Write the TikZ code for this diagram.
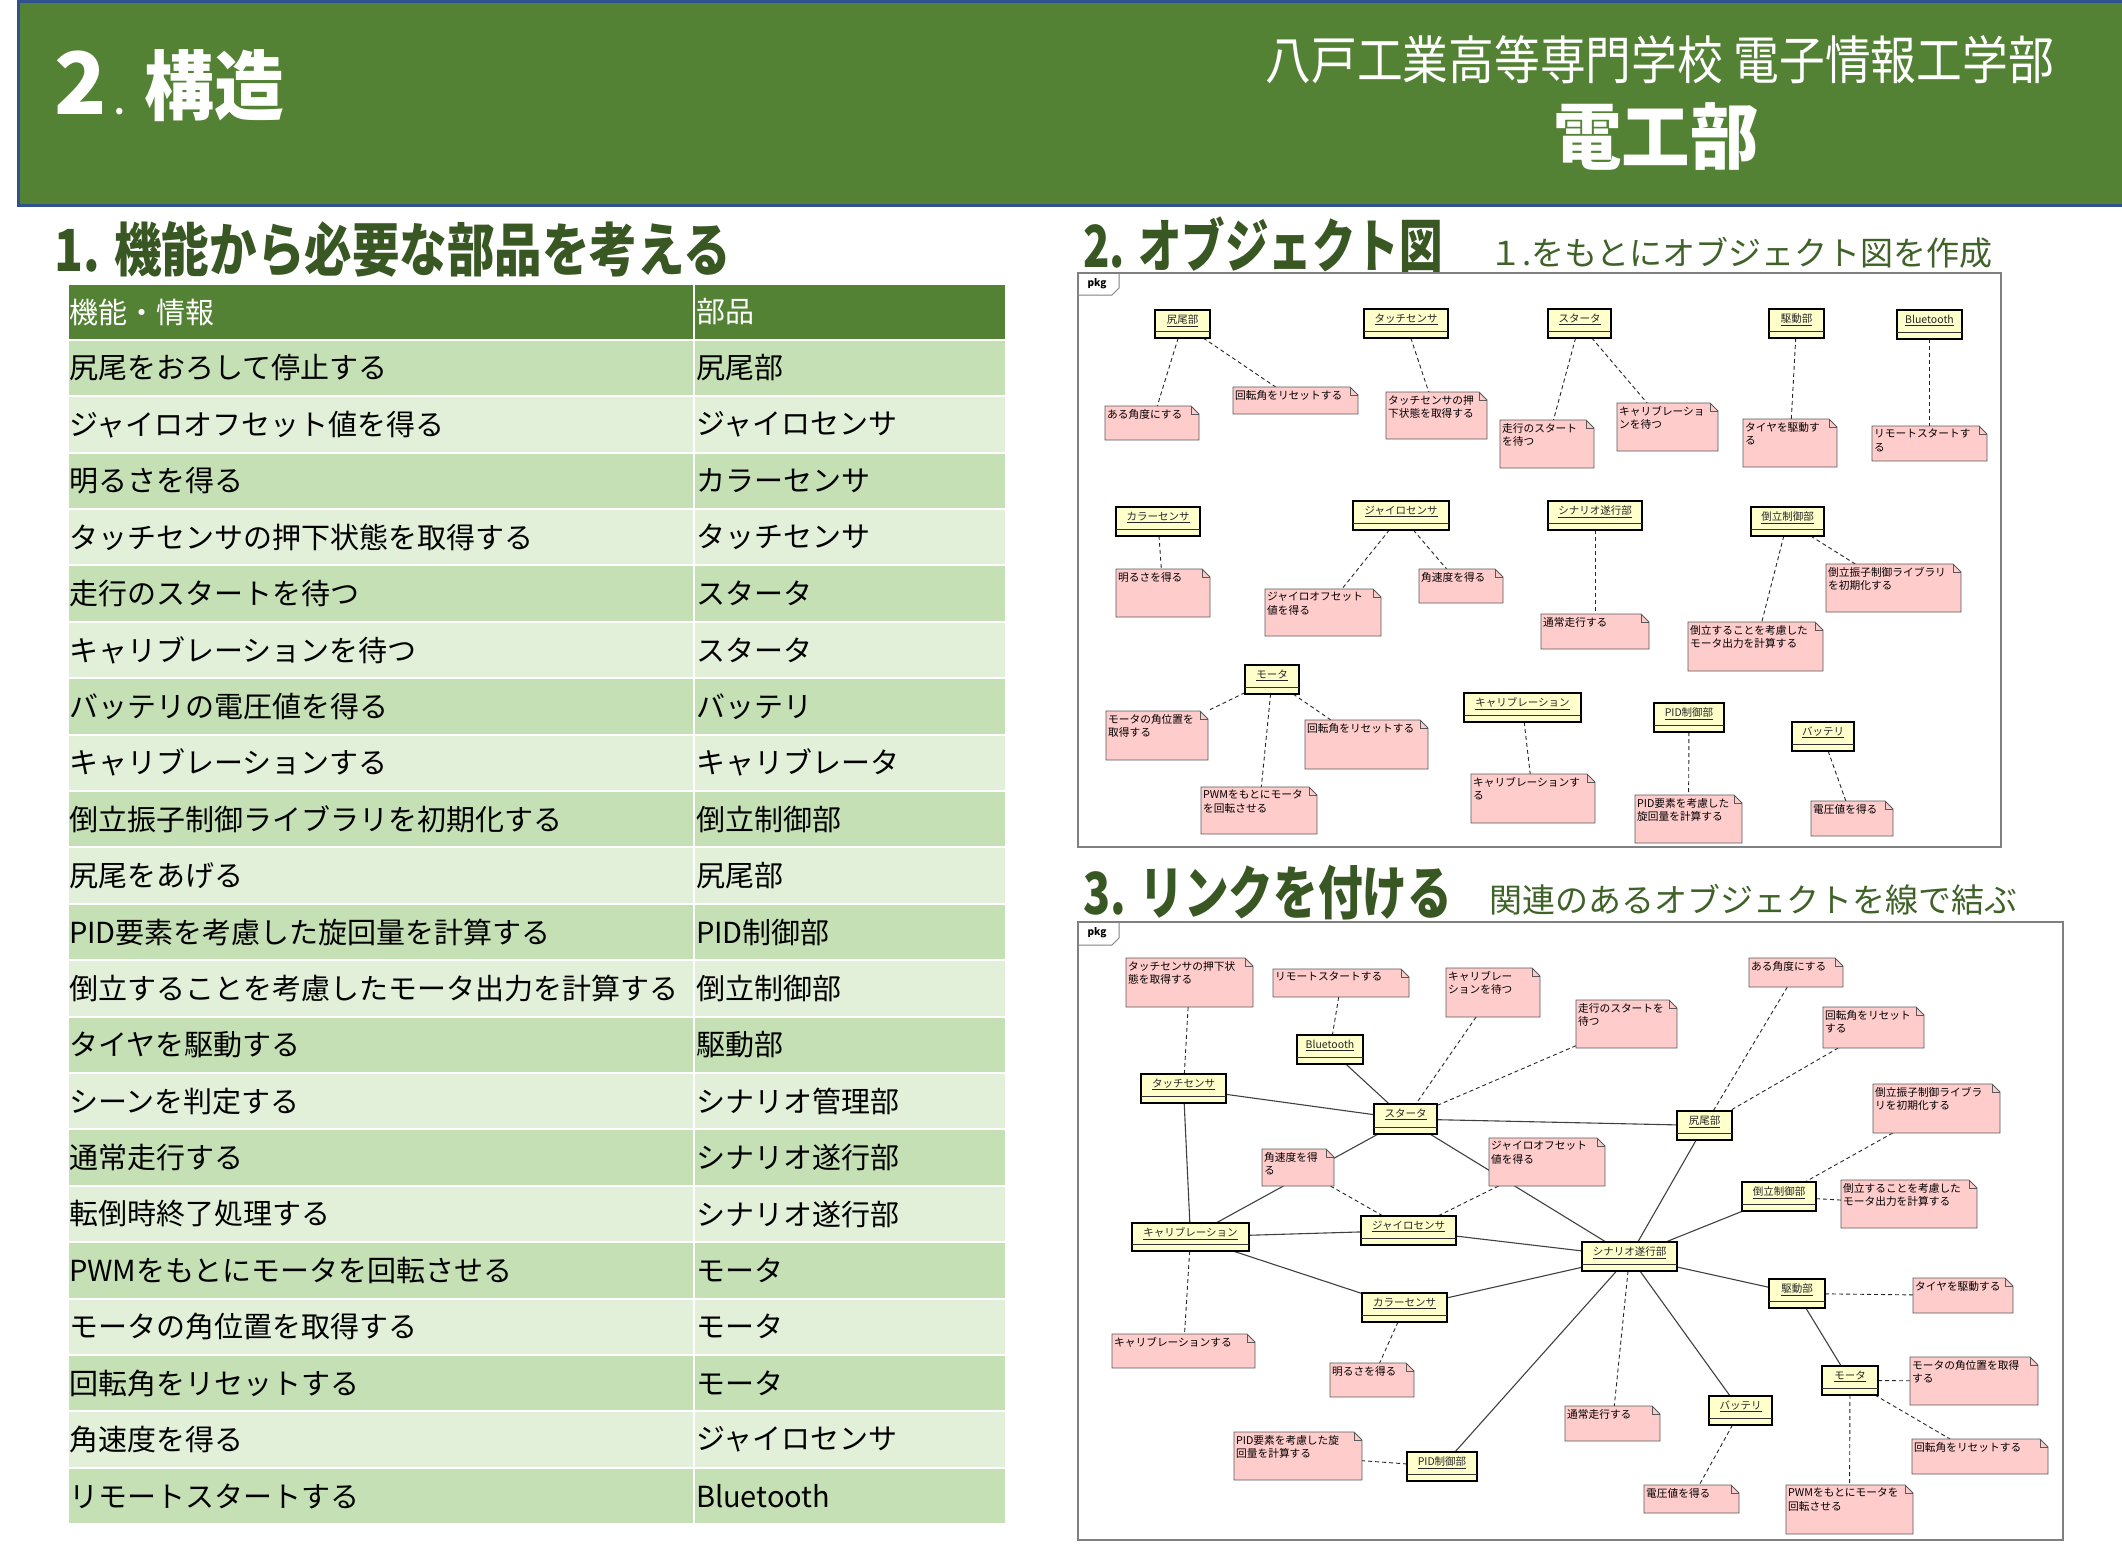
\documentclass[tikz,border=0pt]{standalone}
\usepackage{fontspec}
\setmainfont{Noto Sans CJK JP}
\usetikzlibrary{backgrounds}
\definecolor{headgreen}{HTML}{548235}
\definecolor{headborder}{HTML}{2F528F}
\definecolor{titlegreen}{HTML}{385723}
\definecolor{subgreen}{HTML}{3F6228}
\definecolor{rowdark}{HTML}{C5E0B4}
\definecolor{rowlight}{HTML}{E2F0D9}
\definecolor{objfill}{HTML}{FFFFCC}
\definecolor{notefill}{HTML}{FFCCCC}
\tikzset{
  cellL/.style={draw=white, line width=2, minimum width=626, minimum height=56.4, text width=624, align=left, inner xsep=1, inner ysep=0, font=\fontsize{29}{34}\selectfont},
  cellR/.style={draw=white, line width=2, minimum width=312, minimum height=56.4, text width=308, align=left, inner xsep=2, inner ysep=0, font=\fontsize{29}{34}\selectfont},
  objbox/.style={draw=black, fill=objfill, line width=1.8, inner sep=0, outer sep=0},
  objsep/.style={draw=black!80, line width=0.8},
  objtext/.style={inner sep=0, font=\fontsize{10.5}{12}\selectfont, text=black!85},
  notebox/.style={inner sep=0, outer sep=0},
  notefillst/.style={fill=notefill},
  noteline/.style={draw=black!65, line width=0.8},
  notetext/.style={inner sep=1, align=left, font=\fontsize{10.7}{13.3}\selectfont, text=black},
  dlink/.style={draw=black!85, dash pattern=on 4pt off 3pt, line width=0.9},
  slink/.style={draw=black!75, line width=1.1},
  framest/.style={draw=black!50, line width=1.3},
  heading/.style={anchor=base west, inner sep=0, text=titlegreen},
  subhead/.style={anchor=base west, inner sep=0, text=subgreen, font=\fontsize{33}{37}\selectfont},
}
\newcommand\uobj[6]{%
  \node[objbox, minimum width={#4-#2}, minimum height={#5-#3}] (#1) at ({(#2+#4)/2},{(#3+#5)/2}) {};
  \draw[objsep] ([yshift=6.5pt]#1.south west) -- ([yshift=6.5pt]#1.south east);
  \node[objtext] (#1t) at ([yshift=-10.5pt]#1.north) {\underline{#6}};
}
\newcommand\unote[6]{%
  \node[notebox, minimum width={#4-#2}, minimum height={#5-#3}] (#1) at ({(#2+#4)/2},{(#3+#5)/2}) {};
  \fill[notefillst] (#2,#3) -- ({#4-8},#3) -- (#4,{#3+8}) -- (#4,#5) -- (#2,#5) -- cycle;
  \draw[noteline] (#2,#3) -- ({#4-8},#3) -- (#4,{#3+8}) -- (#4,#5) -- (#2,#5) -- cycle;
  \draw[noteline] ({#4-8},#3) -- ({#4-8},{#3+8}) -- (#4,{#3+8});
  \node[notetext, anchor=north west] (#1t) at ({#2+1},{#3+2}) {#6};
}
\begin{document}
\begin{tikzpicture}[x=1pt,y=-1pt]
\useasboundingbox (0,0) rectangle (2122,1549);
% ---------- header ----------
\fill[headgreen] (18,1) rectangle (2122,206);
\draw[headborder, line width=3] (2122,1.5) -- (18,1.5) -- (18,206) -- (2122,206);
\node[anchor=base west, inner sep=0, text=white, font=\bfseries\fontsize{86}{90}\selectfont] (tnum) at (54,115) {2};
\node[anchor=base west, inner sep=0, text=white, font=\bfseries\fontsize{30}{34}\selectfont] (tdot) at (114,115) {.};
\node[anchor=base west, inner sep=0, text=white, font=\bfseries\fontsize{76}{80}\selectfont, xscale=0.92] (tkozo) at (144,115) {構造};
\node[anchor=base east, inner sep=0, text=white, font=\fontsize{52}{56}\selectfont, xscale=0.88] (school) at (2054,80) {八戸工業高等専門学校 電子情報工学部};
\node[anchor=base, inner sep=0, text=white, font=\bfseries\fontsize{72}{76}\selectfont, xscale=0.95] (denko) at (1656,164) {電工部};
% ---------- headings ----------
\node[heading, font=\bfseries\fontsize{58}{62}\selectfont, xscale=0.82] (h1) at (54,271) {1. 機能から必要な部品を考える};
\node[heading, font=\bfseries\fontsize{58}{62}\selectfont, xscale=0.75] (h2) at (1083,267) {2. オブジェクト図};
\node[subhead] (s2) at (1489,265) {１.をもとにオブジェクト図を作成};
\node[heading, font=\bfseries\fontsize{58}{62}\selectfont, xscale=0.77] (h3) at (1083,914) {3. リンクを付ける};
\node[subhead] (s3) at (1489,912) {関連のあるオブジェクトを線で結ぶ};
% ---------- table ----------
\node[cellL, fill=headgreen, text=white] (th1) at (381,312) {機能・情報};
\node[cellR, fill=headgreen, text=white] (th2) at (850,312) {部品};
\foreach \a/\b [count=\i] in {
  尻尾をおろして停止する/尻尾部,
  ジャイロオフセット値を得る/ジャイロセンサ,
  明るさを得る/カラーセンサ,
  タッチセンサの押下状態を取得する/タッチセンサ,
  走行のスタートを待つ/スタータ,
  キャリブレーションを待つ/スタータ,
  バッテリの電圧値を得る/バッテリ,
  キャリブレーションする/キャリブレータ,
  倒立振子制御ライブラリを初期化する/倒立制御部,
  尻尾をあげる/尻尾部,
  PID要素を考慮した旋回量を計算する/PID制御部,
  倒立することを考慮したモータ出力を計算する/倒立制御部,
  タイヤを駆動する/駆動部,
  シーンを判定する/シナリオ管理部,
  通常走行する/シナリオ遂行部,
  転倒時終了処理する/シナリオ遂行部,
  PWMをもとにモータを回転させる/モータ,
  モータの角位置を取得する/モータ,
  回転角をリセットする/モータ,
  角速度を得る/ジャイロセンサ,
  リモートスタートする/Bluetooth}{
  \pgfmathsetmacro\yc{368+56.4*(\i-1)}
  \pgfmathtruncatemacro\odd{mod(\i,2)}
  \ifnum\odd=1 \def\rc{rowdark}\else\def\rc{rowlight}\fi
  \node[cellL, fill=\rc] (tl\i) at (381,\yc) {\a};
  \node[cellR, fill=\rc] (tr\i) at (850,\yc) {\b};
}
% ---------- panel 2 frame ----------
\draw[framest] (1078,273) rectangle (2001,847);
\draw[framest, line width=1] (1078,295) -- (1112,295) -- (1119,288) -- (1119,273);
\node[inner sep=0, font=\bfseries\fontsize{10}{12}\selectfont] (pkgA) at (1097,284) {pkg};
% objects
\uobj{aShippo}{1155}{310}{1210}{338}{尻尾部}
\uobj{aTouch}{1364}{309}{1448}{338}{タッチセンサ}
\uobj{aStarter}{1548}{309}{1611}{338}{スタータ}
\uobj{aDrive}{1769}{309}{1824}{338}{駆動部}
\uobj{aBT}{1897}{310}{1962}{339}{Bluetooth}
\uobj{aColor}{1116}{507}{1200}{536}{カラーセンサ}
\uobj{aGyro}{1353}{501}{1449}{530}{ジャイロセンサ}
\uobj{aScen}{1548}{501}{1642}{530}{シナリオ遂行部}
\uobj{aInv}{1751}{507}{1824}{536}{倒立制御部}
\uobj{aMotor}{1245}{665}{1299}{694}{モータ}
\uobj{aCalib}{1464}{693}{1581}{722}{キャリブレーション}
\uobj{aPID}{1654}{703}{1724}{732}{PID制御部}
\uobj{aBatt}{1792}{722}{1854}{751}{バッテリ}
% notes
\unote{an1}{1105}{406}{1199}{440}{ある角度にする}
\unote{an2}{1233}{387}{1358}{414}{回転角をリセットする}
\unote{an3}{1386}{392}{1487}{439}{タッチセンサの押\\下状態を取得する}
\unote{an4}{1500}{420}{1594}{468}{走行のスタート\\を待つ}
\unote{an5}{1617}{403}{1718}{451}{キャリブレーショ\\ンを待つ}
\unote{an6}{1743}{419}{1837}{467}{タイヤを駆動す\\る}
\unote{an7}{1872}{426}{1987}{461}{リモートスタートす\\る}
\unote{an8}{1116}{569}{1210}{617}{明るさを得る}
\unote{an9}{1265}{589}{1381}{636}{ジャイロオフセット\\値を得る}
\unote{an10}{1419}{569}{1503}{603}{角速度を得る}
\unote{an11}{1541}{614}{1649}{649}{通常走行する}
\unote{an12}{1688}{622}{1823}{671}{倒立することを考慮した\\モータ出力を計算する}
\unote{an13}{1826}{564}{1961}{612}{倒立振子制御ライブラリ\\を初期化する}
\unote{an14}{1106}{711}{1208}{760}{モータの角位置を\\取得する}
\unote{an15}{1201}{787}{1317}{834}{PWMをもとにモータ\\を回転させる}
\unote{an16}{1305}{720}{1428}{769}{回転角をリセットする}
\unote{an17}{1471}{774}{1595}{823}{キャリブレーションす\\る}
\unote{an18}{1635}{795}{1742}{843}{PID要素を考慮した\\旋回量を計算する}
\unote{an19}{1811}{801}{1893}{836}{電圧値を得る}
% ---------- panel 3 frame ----------
\draw[framest] (1078,922) rectangle (2063,1540);
\draw[framest, line width=1] (1078,945) -- (1112,945) -- (1119,938) -- (1119,922);
\node[inner sep=0, font=\bfseries\fontsize{10}{12}\selectfont] (pkgB) at (1097,933) {pkg};
% objects
\uobj{bBT}{1297}{1035}{1363}{1064}{Bluetooth}
\uobj{bTouch}{1141}{1074}{1226}{1103}{タッチセンサ}
\uobj{bStarter}{1374}{1104}{1437}{1134}{スタータ}
\uobj{bGyro}{1361}{1216}{1456}{1245}{ジャイロセンサ}
\uobj{bCalib}{1132}{1223}{1249}{1251}{キャリブレーション}
\uobj{bShippo}{1677}{1111}{1732}{1140}{尻尾部}
\uobj{bInv}{1742}{1182}{1816}{1211}{倒立制御部}
\uobj{bScen}{1582}{1242}{1677}{1271}{シナリオ遂行部}
\uobj{bDrive}{1769}{1279}{1825}{1308}{駆動部}
\uobj{bMotor}{1822}{1366}{1878}{1395}{モータ}
\uobj{bBatt}{1709}{1396}{1772}{1425}{バッテリ}
\uobj{bColor}{1362}{1293}{1447}{1322}{カラーセンサ}
\uobj{bPID}{1407}{1452}{1477}{1481}{PID制御部}
% notes
\unote{bn1}{1126}{958}{1253}{1007}{タッチセンサの押下状\\態を取得する}
\unote{bn2}{1273}{969}{1409}{997}{リモートスタートする}
\unote{bn3}{1446}{968}{1540}{1017}{キャリブレー\\ションを待つ}
\unote{bn4}{1576}{1000}{1677}{1048}{走行のスタートを\\待つ}
\unote{bn5}{1262}{1149}{1334}{1186}{角速度を得\\る}
\unote{bn6}{1489}{1138}{1605}{1186}{ジャイロオフセット\\値を得る}
\unote{bn7}{1749}{958}{1843}{987}{ある角度にする}
\unote{bn8}{1823}{1007}{1924}{1048}{回転角をリセット\\する}
\unote{bn9}{1873}{1084}{2000}{1133}{倒立振子制御ライブラ\\リを初期化する}
\unote{bn10}{1841}{1180}{1977}{1228}{倒立することを考慮した\\モータ出力を計算する}
\unote{bn11}{1913}{1278}{2013}{1313}{タイヤを駆動する}
\unote{bn12}{1910}{1357}{2038}{1405}{モータの角位置を取得\\する}
\unote{bn13}{1912}{1439}{2048}{1474}{回転角をリセットする}
\unote{bn14}{1786}{1485}{1913}{1534}{PWMをもとにモータを\\回転させる}
\unote{bn15}{1644}{1485}{1739}{1513}{電圧値を得る}
\unote{bn16}{1565}{1406}{1660}{1441}{通常走行する}
\unote{bn17}{1112}{1334}{1255}{1368}{キャリブレーションする}
\unote{bn18}{1330}{1363}{1414}{1397}{明るさを得る}
\unote{bn19}{1234}{1432}{1362}{1480}{PID要素を考慮した旋\\回量を計算する}
% ---------- connectors ----------
\begin{pgfonlayer}{background}
\foreach \p/\q in {aShippo/an1, aShippo/an2, aTouch/an3, aStarter/an4, aStarter/an5,
  aDrive/an6, aBT/an7, aColor/an8, aGyro/an9, aGyro/an10, aScen/an11, aInv/an12,
  aInv/an13, aMotor/an14, aMotor/an15, aMotor/an16, aCalib/an17, aPID/an18, aBatt/an19}
  {\draw[dlink] (\p) -- (\q);}
\foreach \p/\q in {bBT/bStarter, bTouch/bStarter, bTouch/bCalib, bStarter/bCalib,
  bStarter/bShippo, bStarter/bScen, bCalib/bGyro, bCalib/bColor, bGyro/bScen,
  bColor/bScen, bPID/bScen, bShippo/bScen, bInv/bScen, bScen/bDrive, bScen/bBatt,
  bDrive/bMotor}
  {\draw[slink] (\p) -- (\q);}
\foreach \p/\q in {bn1/bTouch, bn2/bBT, bn3/bStarter, bn4/bStarter, bn5/bGyro,
  bn6/bGyro, bn7/bShippo, bn8/bShippo, bn9/bInv, bInv/bn10, bCalib/bn17,
  bColor/bn18, bPID/bn19, bScen/bn16, bBatt/bn15, bDrive/bn11, bMotor/bn12,
  bMotor/bn13, bMotor/bn14}
  {\draw[dlink] (\p) -- (\q);}
\end{pgfonlayer}
\end{tikzpicture}
\end{document}
